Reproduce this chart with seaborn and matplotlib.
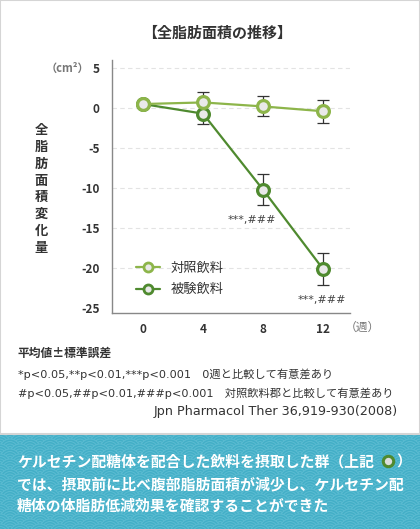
import numpy as np
import pandas as pd
from matplotlib import pyplot as plt
from matplotlib.patches import Rectangle, Circle
from matplotlib.lines import Line2D

import seaborn as sns

weeks = [0, 4, 8, 12]
control_mean = [0.5, 0.7, 0.2, -0.4]
control_se = [0.0, 1.3, 1.25, 1.45]
test_mean = [0.5, -0.7, -10.2, -20.1]
test_se = [0.0, 1.3, 1.95, 1.95]
groups = ['対照飲料', '被験飲料']
y_ticks = [5, 0, -5, -10, -15, -20, -25]
sig_labels = ['', '', '***,###', '***,###']

light_green = '#8db54a'
dark_green = '#4f8a2f'
face = '#e9e9e9'
teal = '#43afc7'
teal_line = '#5cbcd2'

sns.set_theme(style='white')
plt.rcParams['font.family'] = ['Noto Sans CJK JP', 'DejaVu Sans']
latin = ['DejaVu Sans', 'Noto Sans CJK JP']

df = pd.DataFrame({
    'week': weeks * 2,
    'value': control_mean + test_mean,
    'group': [groups[0]] * 4 + [groups[1]] * 4,
})

fig = plt.figure(figsize=(4.2, 5.29), dpi=100)

# seigaiha background for the message box
bg = fig.add_axes([0, 0, 1, 95 / 529], zorder=0)
bg.set_xlim(0, 420)
bg.set_ylim(0, 95)
bg.set_facecolor(teal)
bg.axis('off')
bg.add_patch(Rectangle((0, 0), 420, 95, facecolor=teal, edgecolor='none', zorder=0))
r = 10
row = 0
yc = 100
while yc > -r:
    off = r if row % 2 else 0
    for xc in np.arange(-r + off, 420 + 2 * r, 2 * r):
        for k, rr in enumerate([r, 0.75 * r, 0.5 * r, 0.25 * r]):
            bg.add_patch(Circle((xc, yc), rr, facecolor=teal if k == 0 else 'none',
                                edgecolor=teal_line, lw=0.7, zorder=1 + row))
    yc -= r / 2
    row += 1

ax = fig.add_axes([112 / 420, 1 - 313 / 529, 238 / 420, 253 / 529], zorder=2)

sns.lineplot(data=df, x='week', y='value', hue='group', hue_order=groups[::-1],
             palette={groups[0]: light_green, groups[1]: dark_green},
             marker='o', markersize=8.5, markeredgewidth=2.3, markerfacecolor=face,
             linewidth=1.6, ax=ax, legend=False, zorder=3)
for ln in ax.lines:
    ln.set_markerfacecolor(face)
    ln.set_markeredgecolor(ln.get_color())

# error bars behind the lines
for mean, se in [(control_mean, control_se), (test_mean, test_se)]:
    idx = [i for i in range(len(weeks)) if se[i] > 0]
    ax.errorbar([weeks[i] for i in idx], [mean[i] for i in idx], yerr=[se[i] for i in idx],
                fmt='none', ecolor='#333333', elinewidth=0.9, capsize=4.5, capthick=0.9, zorder=1)

for w, m, s in zip(weeks, test_mean, sig_labels):
    if s:
        ax.annotate(s, xy=(w, m), xytext=(-8 if w == 8 else -1, -22), textcoords='offset points',
                    ha='center', va='center', fontsize=8, color='#444444', family=latin)

ax.set_xlim(-2.07, 13.8)
ax.set_ylim(-25.6, 6)
ax.set_xticks(weeks)
ax.set_xticklabels([str(w) for w in weeks])
ax.set_yticks(y_ticks)
ax.set_yticklabels([str(t) for t in y_ticks])
ax.tick_params(axis='both', length=0, labelsize=8.5, colors='#333333')
ax.tick_params(axis='y', pad=9)
ax.tick_params(axis='x', pad=7)
for lbl in ax.get_xticklabels() + ax.get_yticklabels():
    lbl.set_fontweight('bold')
ax.set_xlabel('')
ax.set_ylabel('')
for t in y_ticks[:-1]:
    ax.axhline(t, color='#e3e3e3', lw=0.8, ls=(0, (4, 3)), zorder=0)
for side in ['top', 'right']:
    ax.spines[side].set_visible(False)
for side in ['left', 'bottom']:
    ax.spines[side].set_color('#888888')
    ax.spines[side].set_linewidth(1.0)

handles = [Line2D([], [], color=c, lw=1.6, marker='o', markersize=6.5, markeredgewidth=2,
                  markerfacecolor=face, markeredgecolor=c) for c in [light_green, dark_green]]
ax.legend(handles, groups, loc='center left', bbox_to_anchor=(0.08, 0.135), frameon=False,
          handlelength=1.8, handletextpad=0.8, labelspacing=0.65, borderaxespad=0,
          prop={'size': 9.5}, labelcolor='#333333')

fig.text(217 / 420, 1 - 33 / 529, '【全脂肪面積の推移】', ha='center', va='center',
         fontsize=10.8, fontweight='bold', color='#333333')
fig.text(67 / 420, 1 - 68 / 529, '（cm²）', ha='center', va='center', fontsize=8,
         color='#777777', fontweight='bold')
fig.text(362 / 420, 1 - 327 / 529, '（週）', ha='center', va='center', fontsize=8.5,
         color='#777777')
fig.text(41 / 420, 1 - 189 / 529, '\n'.join('全脂肪面積変化量'), ha='center', va='center',
         fontsize=9.5, fontweight='bold', color='#333333', linespacing=1.25)

fig.text(18 / 420, 1 - 353 / 529, '平均値±標準誤差', ha='left', va='center',
         fontsize=8.5, fontweight='bold', color='#333333')
fig.text(18 / 420, 1 - 374 / 529, '*p<0.05,**p<0.01,***p<0.001　0週と比較して有意差あり',
         ha='left', va='center', fontsize=8.1, color='#333333', family=latin)
fig.text(18 / 420, 1 - 393 / 529, '#p<0.05,##p<0.01,###p<0.001　対照飲料郡と比較して有意差あり',
         ha='left', va='center', fontsize=8.1, color='#333333', family=latin)
fig.text(398 / 420, 1 - 412 / 529, 'Jpn Pharmacol Ther 36,919-930(2008)',
         ha='right', va='center', fontsize=9.2, color='#333333', family=latin)

fig.patches.append(Rectangle((0, 95 / 529), 1, 1 - 95 / 529, transform=fig.transFigure,
                             facecolor='none', edgecolor='#d5d5d5', lw=1.5, zorder=5))
msg_kw = dict(ha='left', va='center', fontsize=10.7, fontweight='bold', color='white', zorder=10)
t1 = fig.text(17 / 420, 1 - 462 / 529, 'ケルセチン配糖体を配合した飲料を摂取した群（上記', **msg_kw)
fig.text(17 / 420, 1 - 484 / 529, 'では、摂取前に比べ腹部脂肪面積が減少し、ケルセチン配', **msg_kw)
fig.text(17 / 420, 1 - 506 / 529, '糖体の体脂肪低減効果を確認することができた', **msg_kw)

fig.canvas.draw()
bb = t1.get_window_extent()
x_end = bb.x1 / fig.bbox.width
fig.lines.append(Line2D([x_end + 14 / 420], [1 - 461 / 529], transform=fig.transFigure,
                        marker='o', markersize=7.5, markeredgewidth=2.2, zorder=10,
                        markerfacecolor='#dddddd', markeredgecolor=dark_green, ls='none'))
fig.text(x_end + 22 / 420, 1 - 462 / 529, '）', **msg_kw)

fig.savefig('out.png', dpi=100)
